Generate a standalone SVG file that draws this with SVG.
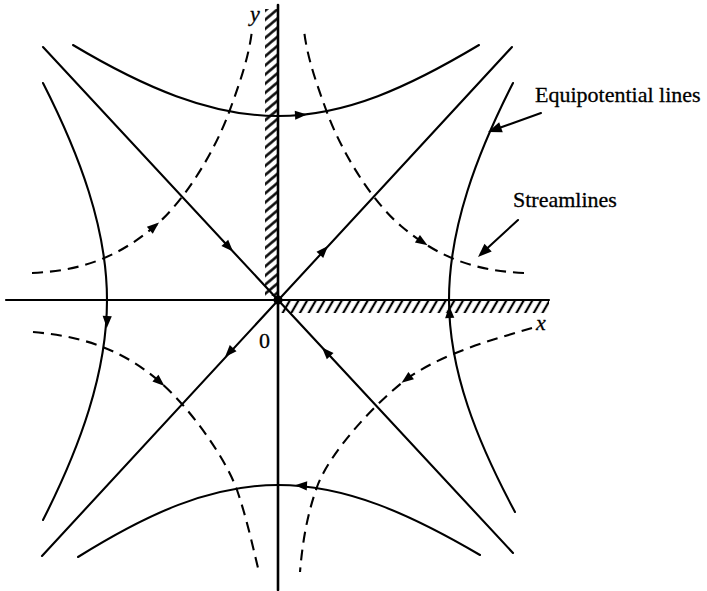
<svg xmlns="http://www.w3.org/2000/svg" width="707" height="591" viewBox="0 0 707 591">
<style>
.s{fill:none;stroke:#000;stroke-width:2.1;stroke-linecap:round}
.d{fill:none;stroke:#000;stroke-width:2.1;stroke-dasharray:11 7}
.t{font-family:"Liberation Serif","Times New Roman",serif;fill:#000;font-size:22px;stroke:#000;stroke-width:0.3}
.i{font-style:italic}
</style>
<defs>
<path id="ah" d="M0,0 L-12,-4.6 L-12,4.6 Z" fill="#000"/>
<pattern id="hy" width="7" height="20" patternUnits="userSpaceOnUse" patternTransform="rotate(50)"><line x1="3.5" y1="-1" x2="3.5" y2="21" stroke="#000" stroke-width="2.5"/></pattern>
<pattern id="hx" width="7.5" height="20" patternUnits="userSpaceOnUse" patternTransform="rotate(30)"><line x1="3.75" y1="-1" x2="3.75" y2="21" stroke="#000" stroke-width="2.2"/></pattern>
</defs>
<rect width="707" height="591" fill="#fff"/>
<g id="walls">
<rect x="265" y="9" width="12" height="287" fill="url(#hy)"/>
<rect x="281" y="301" width="268" height="12" fill="url(#hx)"/>
</g>
<g id="axes" class="s">
<line x1="6" y1="300" x2="549" y2="300" stroke-width="2.2"/>
<line x1="278" y1="5" x2="278" y2="590" stroke-width="2.6"/>
<circle cx="278" cy="300" r="4.5" fill="#000" stroke="none"/>
</g>
<g id="equipotentials" class="s">
<path d="M73,45 C143,86.8 210,116 278,116 C346,116 409,86.8 479,45"/>
<path d="M78,557 C147,514 210,485 278,485 C346,485 410,514 480,555"/>
<path d="M513,83 C476.4,155 449,228 449,300 C449,371 477,441 515,512"/>
<path d="M43,83 C79.6,155 107,228 107,300 C107,373 80,447 43,520"/>
<line x1="43" y1="47" x2="513" y2="553"/>
<line x1="512" y1="47" x2="42" y2="556"/>
</g>
<g id="streamlines" class="d">
<path d="M32,273 C77,271 115,260 155,226 C185,200.5 214,152 228,115 C238,88 249,58 252,30"/>
<path d="M524,273 C479,271 441,260 401,226 C371,200.5 342,152 328,115 C318,88 307,58 304,30"/>
<path d="M33,332 C78,336 120,347 160,382 C190,408 225,457 237,490 C246,516 252,543 258,568"/>
<path d="M532,328 C492,340 446,352 408,378 C378,400.5 330,451 317,487 C307,515 302.5,542 300,572"/>
</g>
<g id="arrows">
<use href="#ah" transform="translate(307,114.6) rotate(-3)"/>
<use href="#ah" transform="translate(295,485.2) rotate(183)"/>
<use href="#ah" transform="translate(106.8,328) rotate(92)"/>
<use href="#ah" transform="translate(449.3,306) rotate(-92)"/>
<use href="#ah" transform="translate(233,251.6) rotate(47.1)"/>
<use href="#ah" transform="translate(328,246) rotate(-47.2)"/>
<use href="#ah" transform="translate(225,357) rotate(132.8)"/>
<use href="#ah" transform="translate(322,347.4) rotate(227.1)"/>
<use href="#ah" transform="translate(159,222.5) rotate(-40)"/>
<use href="#ah" transform="translate(427.5,245.3) rotate(33)"/>
<use href="#ah" transform="translate(164.5,386) rotate(41)"/>
<use href="#ah" transform="translate(401.6,382.8) rotate(143)"/>
</g>
<g id="label-equipotential">
<line class="s" x1="541" y1="113" x2="492" y2="130.5"/>
<use href="#ah" transform="translate(488,132) rotate(160) scale(1.15)"/>
<text class="t" x="535" y="102">Equipotential lines</text>
</g>
<g id="label-streamlines">
<line class="s" x1="518" y1="220" x2="481" y2="254"/>
<use href="#ah" transform="translate(478,257) rotate(137) scale(1.15)"/>
<text class="t" x="513" y="207">Streamlines</text>
</g>
<g id="axis-labels">
<text class="t i" x="250" y="21">y</text>
<text class="t i" x="536" y="330">x</text>
<text class="t" x="259" y="348">0</text>
</g>
</svg>
